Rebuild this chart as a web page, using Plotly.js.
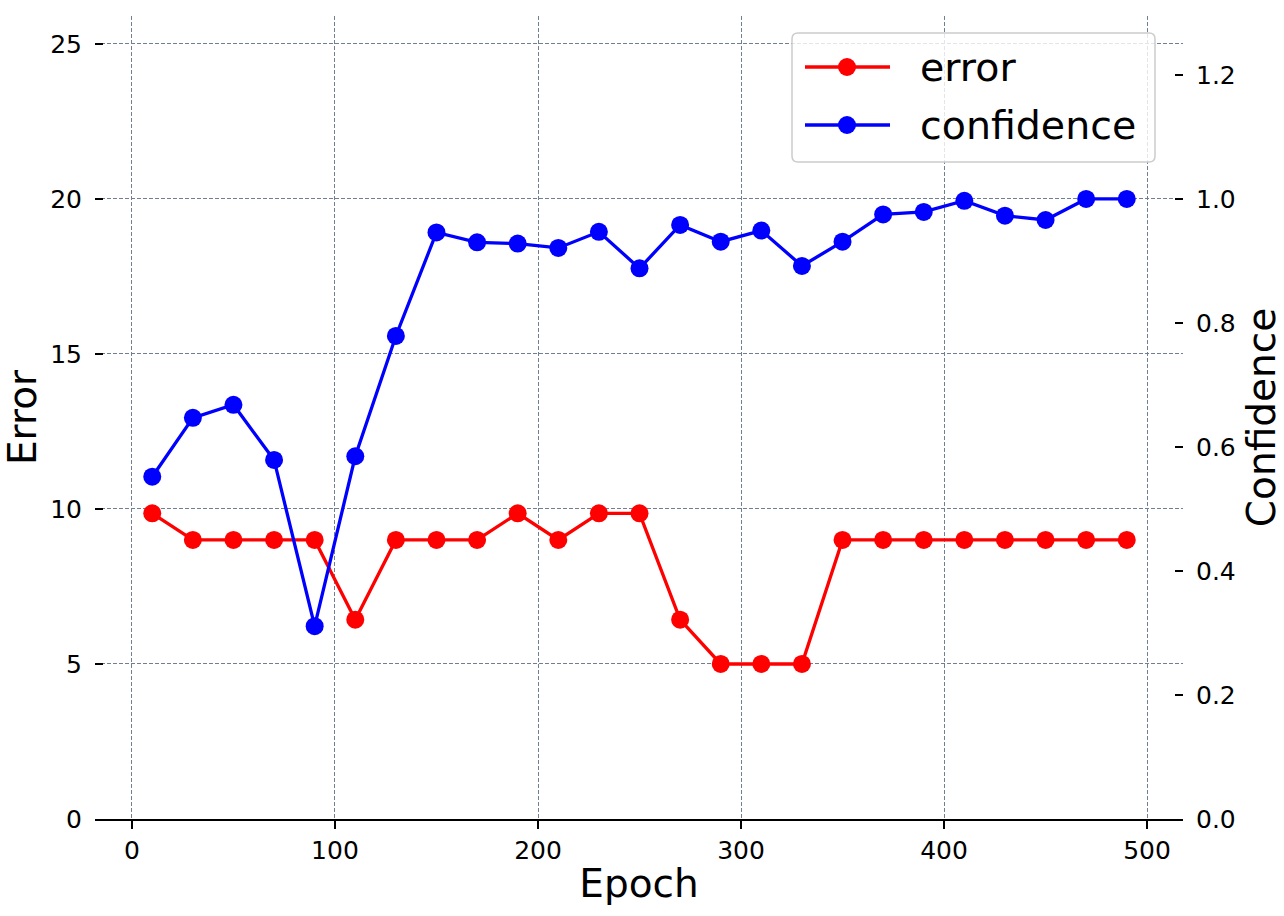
<!DOCTYPE html>
<html>
<head>
<meta charset="utf-8">
<script src="https://cdn.plot.ly/plotly-3.0.1.min.js"></script>
<style>html,body{margin:0;padding:0;background:#fff;}#chart{width:1284px;height:916px;}</style>
</head>
<body>
<div id="chart"></div>
<script>
const epochs = [10, 30, 50, 70, 90, 110, 130, 150, 170, 190, 210, 230, 250, 270, 290, 310, 330, 350, 370, 390, 410, 430, 450, 470, 490];
const errorValues = [9.86, 9, 9, 9, 9, 6.43, 9, 9, 9, 9.86, 9, 9.86, 9.86, 6.43, 5, 5, 5, 9, 9, 9, 9, 9, 9, 9, 9];
const confidenceValues = [0.552, 0.647, 0.668, 0.579, 0.311, 0.585, 0.779, 0.946, 0.930, 0.928, 0.921, 0.947, 0.888, 0.958, 0.931, 0.949, 0.892, 0.931, 0.975, 0.979, 0.997, 0.973, 0.966, 1.0, 1.0];
const xTicks = [0, 100, 200, 300, 400, 500];
const errorTicks = [0, 5, 10, 15, 20, 25];
const confTicks = [0.0, 0.2, 0.4, 0.6, 0.8, 1.0, 1.2];
const seriesNames = ['error', 'confidence'];
const seriesColors = ['#ff0000', '#0000ff'];

const FONT = 'DejaVu Sans, Verdana, sans-serif';
const W = 1284, H = 916;
const M = {l: 95, r: 101, t: 16, b: 97};
const PW = W - M.l - M.r, PH = H - M.t - M.b;
const px2x = p => (p - M.l) / PW;
const py2y = p => (H - M.b - p) / PH;

const traces = [
  {x: epochs, y: errorValues, name: seriesNames[0], type: 'scatter', mode: 'lines+markers',
   line: {color: seriesColors[0], width: 3.3}, marker: {color: seriesColors[0], size: 18}, yaxis: 'y', showlegend: false},
  {x: epochs, y: confidenceValues, name: seriesNames[1], type: 'scatter', mode: 'lines+markers',
   line: {color: seriesColors[1], width: 3.3}, marker: {color: seriesColors[1], size: 18}, yaxis: 'y2', showlegend: false}
];

// Manual legend (matplotlib-like: long line sample, rounded frame)
const bx0 = px2x(792), bx1 = px2x(1155), by0 = py2y(162), by1 = py2y(33);
const rx = 6 / PW, ry = 6 / PH;
const framePath = `M ${bx0 + rx},${by1} L ${bx1 - rx},${by1} Q ${bx1},${by1} ${bx1},${by1 - ry} L ${bx1},${by0 + ry} Q ${bx1},${by0} ${bx1 - rx},${by0} L ${bx0 + rx},${by0} Q ${bx0},${by0} ${bx0},${by0 + ry} L ${bx0},${by1 - ry} Q ${bx0},${by1} ${bx0 + rx},${by1} Z`;
const shapes = [{type: 'path', xref: 'paper', yref: 'paper', path: framePath,
  fillcolor: 'rgba(255,255,255,0.8)', line: {color: '#cccccc', width: 1.5}, layer: 'above'}];
const annotations = [];
const rowsY = [67, 125];
seriesNames.forEach((nm, i) => {
  const yy = py2y(rowsY[i]);
  shapes.push({type: 'line', xref: 'paper', yref: 'paper', x0: px2x(805), x1: px2x(890), y0: yy, y1: yy,
    line: {color: seriesColors[i], width: 3.3}, layer: 'above'});
  shapes.push({type: 'circle', xref: 'paper', yref: 'paper',
    x0: px2x(847 - 9), x1: px2x(847 + 9), y0: py2y(rowsY[i] + 9), y1: py2y(rowsY[i] - 9),
    fillcolor: seriesColors[i], line: {color: seriesColors[i], width: 0}, layer: 'above'});
  annotations.push({xref: 'paper', yref: 'paper', x: px2x(918), y: yy, xanchor: 'left', yanchor: 'middle',
    text: nm, showarrow: false, font: {family: FONT, size: 39.5, color: '#000'}});
});

const gridColor = '#708090';
const layout = {
  width: W, height: H,
  margin: {l: M.l, r: M.r, t: M.t, b: M.b, pad: 0},
  paper_bgcolor: '#ffffff', plot_bgcolor: '#ffffff',
  font: {family: FONT, color: '#000'},
  showlegend: false,
  xaxis: {
    range: [-18.2, 517.7], tickvals: xTicks, ticks: 'outside', ticklen: 8, tickwidth: 2, tickcolor: '#000',
    showline: true, linecolor: '#000', linewidth: 2, zeroline: false,
    showgrid: true, gridcolor: gridColor, gridwidth: 1, griddash: '4px,2px',
    tickfont: {family: FONT, size: 25, color: '#000'},
    title: {text: 'Epoch', font: {family: FONT, size: 39, color: '#000'}, standoff: 6},
    automargin: false
  },
  yaxis: {
    range: [0, 25.9], tickvals: errorTicks, ticks: 'inside', ticklen: 8, tickwidth: 2, tickcolor: '#000',
    showline: false, zeroline: false, ticklabelstandoff: 12,
    showgrid: true, gridcolor: gridColor, gridwidth: 1, griddash: '4px,2px',
    tickfont: {family: FONT, size: 25, color: '#000'},
    title: {text: 'Error', font: {family: FONT, size: 39, color: '#000'}, standoff: 16},
    automargin: false
  },
  yaxis2: {
    overlaying: 'y', side: 'right',
    range: [0, 1.295], tickvals: confTicks, tickformat: '.1f', ticks: 'inside', ticklen: 8, tickwidth: 2, tickcolor: '#000',
    showline: false, zeroline: false, showgrid: false, ticklabelstandoff: 12,
    tickfont: {family: FONT, size: 25, color: '#000'},
    title: {text: 'Confidence', font: {family: FONT, size: 39, color: '#000'}, standoff: 14},
    automargin: false
  },
  shapes: shapes,
  annotations: annotations
};

Plotly.newPlot('chart', traces, layout, {displayModeBar: false, staticPlot: true});
</script>
</body>
</html>
